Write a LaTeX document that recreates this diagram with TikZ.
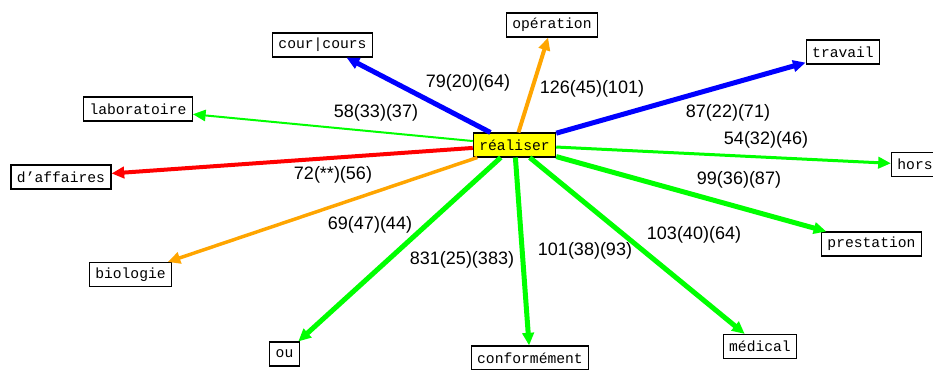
\documentclass[tikz,border=0pt]{standalone}
\usepackage{fontspec}
\setmainfont{Liberation Sans}
\setmonofont{Liberation Mono}
\usetikzlibrary{arrows.meta}
\definecolor{vert}{RGB}{0,255,0}
\definecolor{bleu}{RGB}{0,0,255}
\definecolor{rouge}{RGB}{255,0,0}
\definecolor{orangec}{RGB}{255,165,0}
\definecolor{jaune}{RGB}{255,255,0}
\begin{document}
\begin{tikzpicture}[x=0.75pt,y=-0.75pt,
	mot/.style={draw,line width=0.8pt,fill=white,font=\ttfamily\fontsize{11}{13}\selectfont,inner xsep=4.5pt,inner ysep=0pt,minimum height=18pt},
	lien/.style={-{Triangle[length=9.5pt,width=8.5pt]}},
	val/.style={font=\fontsize{13.5}{16}\selectfont,inner sep=0pt}]
	\useasboundingbox (0,0) rectangle (933,369);
	% mots
	\node[mot] (operation) at (552,25) {opération};
	\node[mot] (cours) at (322.5,45) {cour|cours};
	\node[mot] (travail) at (843,52) {travail};
	\node[mot] (labo) at (138,109) {laboratoire};
	\node[mot] (affaires) at (61,177) {d’affaires};
	\node[mot] (hors) at (915,164.5) {hors};
	\node[mot] (prestation) at (871.5,244) {prestation};
	\node[mot] (biologie) at (130.5,274.5) {biologie};
	\node[mot] (ou) at (284.5,354) {ou};
	\node[mot] (conforme) at (530,358) {conformément};
	\node[mot] (medical) at (760,346.5) {médical};
	\node[mot,fill=jaune] (realiser) at (514.5,145) {réaliser};
	% liens
	\draw[lien,bleu,line width=3.75pt] (realiser) -- (cours);
	\draw[lien,orangec,line width=3pt] (realiser) -- (operation);
	\draw[lien,bleu,line width=3.75pt] (realiser) -- (travail);
	\draw[lien,vert,line width=1.5pt] (realiser) -- (labo);
	\draw[lien,rouge,line width=3pt] (realiser) -- (affaires);
	\draw[lien,vert,line width=2.25pt] (realiser) -- (hors);
	\draw[lien,vert,line width=3.75pt] (realiser) -- (prestation);
	\draw[lien,orangec,line width=2.6pt] (realiser) -- (biologie);
	\draw[lien,vert,line width=3.75pt] (realiser) -- (ou);
	\draw[lien,vert,line width=3.75pt] (realiser) -- (conforme);
	\draw[lien,vert,line width=3.75pt] (realiser) -- (medical);
	% valeurs
	\node[val] (v-cours) at (468,83) {79(20)(64)};
	\node[val] (v-operation) at (592,89) {126(45)(101)};
	\node[val] (v-labo) at (376,113) {58(33)(37)};
	\node[val] (v-travail) at (728,113) {87(22)(71)};
	\node[val] (v-hors) at (766,140) {54(32)(46)};
	\node[val] (v-affaires) at (333,175) {72(**)(56)};
	\node[val] (v-prestation) at (739,180) {99(36)(87)};
	\node[val] (v-biologie) at (370,225) {69(47)(44)};
	\node[val] (v-ou) at (462,260) {831(25)(383)};
	\node[val] (v-conforme) at (585,251) {101(38)(93)};
	\node[val] (v-medical) at (694,235) {103(40)(64)};
\end{tikzpicture}
\end{document}
